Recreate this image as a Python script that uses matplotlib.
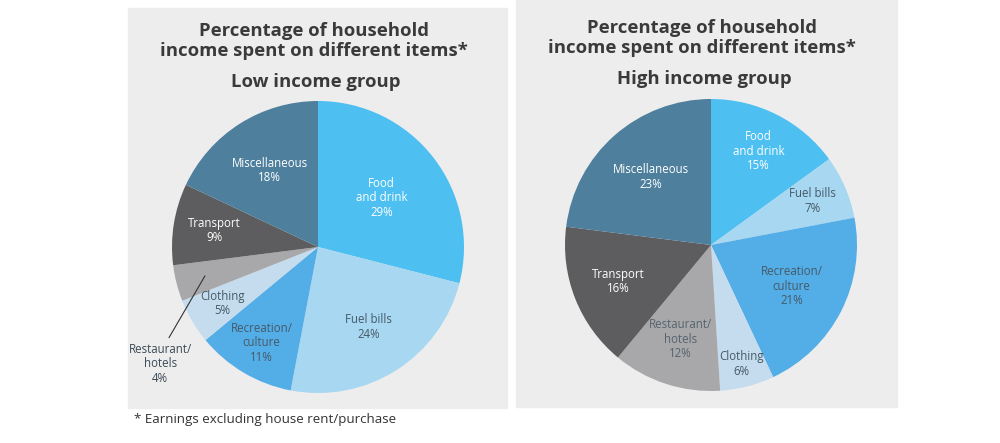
import numpy as np
import matplotlib
matplotlib.use("Agg")
import matplotlib.pyplot as plt
from matplotlib.patches import Rectangle

plt.rcParams['font.family'] = ['Open Sans', 'DejaVu Sans']

# data
categories = ["Food\nand drink", "Fuel bills", "Recreation/\nculture", "Clothing",
              "Restaurant/\nhotels", "Transport", "Miscellaneous"]
low_income = [29, 24, 11, 5, 4, 9, 18]
high_income = [15, 7, 21, 6, 12, 16, 23]

colors = ["#4dbff1", "#a7d7f1", "#53ade7", "#c4dced", "#a8a8aa", "#5d5d5f", "#4e7f9d"]
text_colors = ["white", "#465a68", "#465a68", "#465a68", "#55646e", "white", "white"]
# radial position of each label (fraction of radius)
low_label_r = [0.55, 0.65, 0.76, 0.76, None, 0.72, 0.62]
high_label_r = [0.72, 0.76, 0.62, 0.84, 0.68, 0.68, 0.62]

title_color = "#3a3a3a"

fig = plt.figure(figsize=(10, 4.43), dpi=100)
W, H = 1000, 443

def fx(px):
    return px / W

def fy(py):
    return 1 - py / H

# panel backgrounds
fig.patches.append(Rectangle((fx(128), fy(408)), fx(507 - 128), 400 / H,
                             transform=fig.transFigure, color="#ededed", zorder=-5))
fig.patches.append(Rectangle((fx(516), fy(407)), fx(897 - 516), 407 / H,
                             transform=fig.transFigure, color="#ededed", zorder=-5))


def draw_pie(cx, cy, r, values, label_r, ax_title_x, title_y, subtitle):
    ax = fig.add_axes([fx(cx - r), fy(cy + r), 2 * r / W, 2 * r / H], zorder=2)
    wedges, _ = ax.pie(values, colors=colors, startangle=90, counterclock=False,
                       radius=1, wedgeprops=dict(linewidth=0))
    ax.set_xlim(-1, 1)
    ax.set_ylim(-1, 1)
    ax.set_aspect("auto")
    ax.axis("off")
    for i, w in enumerate(wedges):
        ang = np.deg2rad((w.theta1 + w.theta2) / 2)
        lab = "%s\n%d%%" % (categories[i], values[i])
        if label_r[i] is None:
            # small slice: label outside with a leader line
            ax.plot([0.8 * np.cos(ang), -1.02], [0.8 * np.sin(ang), -0.62],
                    color="#333333", lw=0.8, clip_on=False)
            ax.text(-1.08, -0.8, lab, ha="center", va="center", fontsize=8.3,
                    color="#3c4a54", linespacing=1.15)
            continue
        rr = label_r[i]
        ax.text(rr * np.cos(ang), rr * np.sin(ang), lab, ha="center", va="center",
                fontsize=8.3, color=text_colors[i], linespacing=1.15)
    fig.text(fx(ax_title_x), fy(title_y), "Percentage of household\nincome spent on different items*",
             ha="center", va="center", fontsize=13.3, fontweight="bold",
             color=title_color, linespacing=1.2)
    fig.text(fx(ax_title_x + 2), fy(title_y + 41), subtitle, ha="center", va="center",
             fontsize=13.3, fontweight="bold", color=title_color)


draw_pie(318, 247, 146, low_income, low_label_r, 314, 41, "Low income group")
draw_pie(711, 245, 146, high_income, high_label_r, 702, 38, "High income group")

fig.text(fx(134), fy(420), "* Earnings excluding house rent/purchase", ha="left",
         va="center", fontsize=9.6, color="#333333")

fig.savefig("out.png", dpi=100, facecolor="white")
